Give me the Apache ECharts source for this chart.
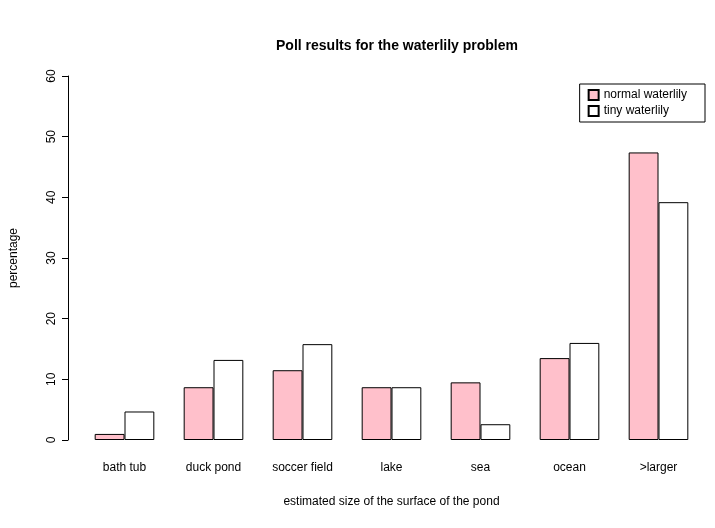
<!DOCTYPE html>
<html><head><meta charset="utf-8">
<script src="https://cdn.jsdelivr.net/npm/echarts@6/dist/echarts.min.js"></script>
<style>html,body{margin:0;padding:0;background:#fff}#c{width:715px;height:528px}</style>
</head><body><div id="c"></div>
<script>
const categories = ["bath tub","duck pond","soccer field","lake","sea","ocean",">larger"];
const normalVals = [1.0, 8.7, 11.5, 8.7, 9.5, 13.5, 47.4];
const tinyVals = [4.7, 13.2, 15.8, 8.7, 2.6, 16.0, 39.2];
const yTicks = [0,10,20,30,40,50,60];
const chart = echarts.init(document.getElementById('c'));
const ff = 'Liberation Sans, Arial, sans-serif';
chart.setOption({
  animation:false,
  textStyle:{fontFamily:ff},
  title:{text:'Poll results for the waterlily problem',left:392,top:34,textAlign:'center',
    textStyle:{fontSize:14,fontWeight:'bold',color:'#000',fontFamily:ff}},
  legend:{orient:'vertical',right:10,top:84,itemWidth:10,itemHeight:10,itemGap:4,
    borderColor:'#000',borderWidth:1,borderRadius:0,padding:[5,18,5,8],
    textStyle:{fontSize:12,color:'#000',fontFamily:ff},icon:'rect'},
  grid:{left:80,right:12,top:76,bottom:88},
  xAxis:{type:'category',data:categories,axisLine:{show:false},axisTick:{show:false},
    axisLabel:{fontSize:12,color:'#000',margin:22,fontFamily:ff},
    name:'estimated size of the surface of the pond',nameLocation:'middle',nameGap:56,
    nameTextStyle:{fontSize:12,color:'#000',fontFamily:ff}},
  yAxis:{type:'value',min:0,max:60,interval:10,offset:12,
    axisLine:{show:true,lineStyle:{color:'#000'}},axisTick:{show:true,length:6,lineStyle:{color:'#000'}},
    splitLine:{show:false},
    axisLabel:{rotate:90,fontSize:12,color:'#000',margin:10,fontFamily:ff},
    name:'percentage',nameLocation:'middle',nameGap:48,
    nameTextStyle:{fontSize:12,color:'#000',fontFamily:ff}},
  series:[
    {name:'normal waterlily',type:'bar',data:normalVals,barGap:'0%',barCategoryGap:'33%',
      itemStyle:{color:'#FFC0CB',borderColor:'#000',borderWidth:1}},
    {name:'tiny waterlily',type:'bar',data:tinyVals,
      itemStyle:{color:'#FFFFFF',borderColor:'#000',borderWidth:1}}
  ]
});
</script></body></html>
